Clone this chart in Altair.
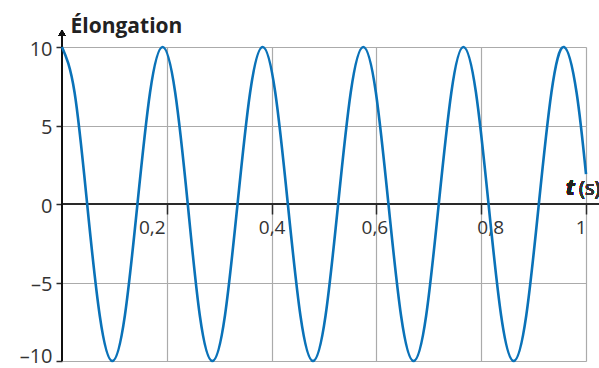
import altair as alt
import pandas as pd

# time (s) and elongation values read at every eighth of a period
t_vals = [0.000, 0.024, 0.048, 0.072, 0.096, 0.120, 0.144, 0.168, 0.192, 0.216,
          0.240, 0.263, 0.287, 0.311, 0.335, 0.359, 0.383, 0.407, 0.431, 0.455,
          0.479, 0.503, 0.527, 0.551, 0.575, 0.599, 0.623, 0.647, 0.671, 0.695,
          0.719, 0.743, 0.766, 0.790, 0.814, 0.838, 0.862, 0.886, 0.910, 0.934,
          0.958, 0.982, 1.000]
y_vals = [10, 7.1, 0, -7.1, -10, -7.1, 0, 7.1, 10, 7.1,
          0, -7.1, -10, -7.1, 0, 7.1, 10, 7.1, 0, -7.1,
          -10, -7.1, 0, 7.1, 10, 7.1, 0, -7.1, -10, -7.1,
          0, 7.1, 10, 7.1, 0, -7.1, -10, -7.1, 0, 7.1,
          10, 7.1, 1.9]

x_ticks = [0.2, 0.4, 0.6, 0.8, 1.0]
y_ticks = [-10, -5, 0, 5, 10]

df = pd.DataFrame({"t": t_vals, "e": y_vals})

W, H = 524, 314
FONT = "Open Sans"
GRID = "#ababab"
DARK = "#2b2b2b"

line = alt.Chart(df).mark_line(
    interpolate="natural", color="#0a72b8", strokeWidth=2.6
).encode(
    x=alt.X("t:Q", scale=alt.Scale(domain=[0, 1], nice=False, zero=False),
            axis=alt.Axis(values=x_ticks, orient="bottom", offset=-H / 2,
                          grid=True, gridColor=GRID, gridWidth=1.2,
                          domain=False, ticks=True, tickSize=10, tickColor=DARK,
                          tickWidth=1.5,
                          labelExpr="datum.value >= 0.99 ? '1' : replace(format(datum.value, '.1f'), '.', ',')",
                          labelFont=FONT, labelFontSize=19, labelColor="#333",
                          labelPadding=4,
                          labelOffset={"condition": [
                              {"test": "abs(datum.value - 0.2) < 0.01", "value": -15},
                              {"test": "abs(datum.value - 0.6) < 0.01", "value": -2},
                              {"test": "abs(datum.value - 0.8) < 0.01", "value": 9}],
                              "value": 0},
                          title=None)),
    y=alt.Y("e:Q", scale=alt.Scale(domain=[-10, 10], nice=False),
            axis=alt.Axis(values=y_ticks, grid=True, gridColor=GRID, gridWidth=1.2,
                          domain=False, tickSize=6, tickColor=DARK, tickWidth=1.5,
                          labelExpr="datum.value < 0 ? '–' + abs(datum.value) : '' + datum.value",
                          labelFont=FONT, labelFontSize=20, labelColor="#333",
                          labelPadding=4,
                          labelOffset={"condition": [
                              {"test": "datum.value <= -9", "value": -5}],
                              "value": 2},
                          title="Élongation", titleAngle=0, titleAlign="left",
                          titleBaseline="alphabetic", titleX=8, titleY=-15,
                          titleFont=FONT, titleFontSize=21, titleFontWeight="bold",
                          titleColor="#222")),
)

x_axis_line = alt.Chart(df).mark_rule(color=DARK, strokeWidth=1.6).encode(
    x=alt.value(0), x2=alt.value(W + 14), y=alt.value(H / 2))
y_axis_line = alt.Chart(df).mark_rule(color="#111", strokeWidth=1.6).encode(
    x=alt.value(0), y=alt.value(H), y2=alt.value(-14))
arrow = alt.Chart(df).mark_point(shape="triangle-up", filled=True, size=45,
                                 color="#111", opacity=1).encode(
    x=alt.value(0), y=alt.value(-14))

t_label = alt.Chart(df).mark_text(text="t", font=FONT, fontSize=21, fontWeight="bold",
                                  fontStyle="italic", align="left", baseline="alphabetic",
                                  color="#222").encode(x=alt.value(504), y=alt.value(148))
s_label = alt.Chart(df).mark_text(text="(s)", font=FONT, fontSize=20, fontStyle="normal",
                                  fontWeight="normal", align="left",
                                  baseline="alphabetic",
                                  color="#333").encode(x=alt.value(517), y=alt.value(148))

chart = alt.layer(x_axis_line, y_axis_line, line, arrow, t_label, s_label).properties(
    width=W, height=H,
    autosize=alt.AutoSizeParams(type="none"),
    padding={"left": 62, "top": 47, "right": 13, "bottom": 7},
).configure_view(stroke=None).configure(background="white")

chart.save("out.html", embed_options={"renderer": "svg", "actions": False})
